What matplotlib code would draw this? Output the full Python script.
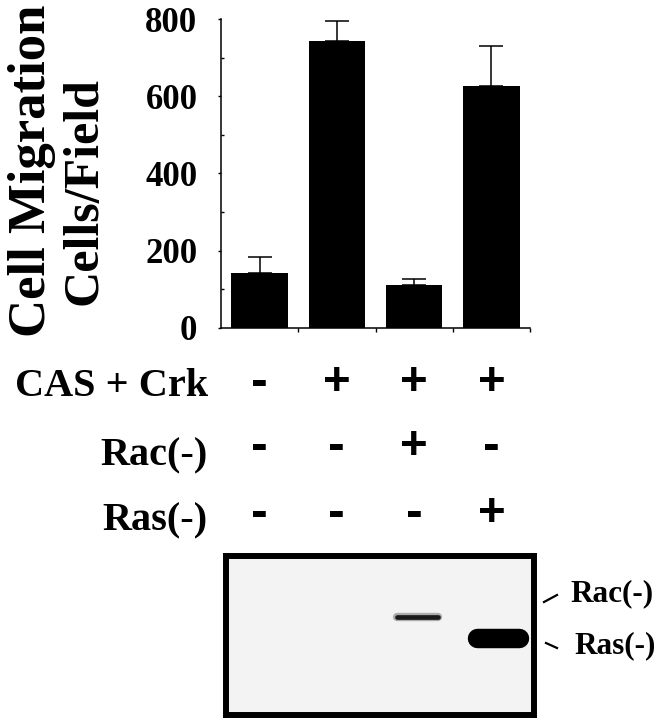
import matplotlib
matplotlib.use("Agg")
import matplotlib.pyplot as plt
from matplotlib.lines import Line2D
from matplotlib.ticker import MultipleLocator
import matplotlib.transforms as mtransforms

# data
conditions = ["1", "2", "3", "4"]
migration = [141, 744, 111, 627]
migration_err = [43, 52, 16, 102]
row_names = ["CAS + Crk", "Rac(-)", "Ras(-)"]
row_signs = [["-", "+", "+", "+"],
             ["-", "-", "+", "-"],
             ["-", "-", "-", "+"]]
band_names = ["Rac(-)", "Ras(-)"]
band_lane = [2.04, 3.08]
band_pos = [0.616, 0.484]

W, H = 660, 720
def fx(px):
    return px / W
def fy(py):
    return 1 - py / H

serif = "Liberation Serif"
sans = "Liberation Sans"

fig = plt.figure(figsize=(6.6, 7.2), dpi=100)

# bar chart
ax = fig.add_axes([fx(221), fy(327.7), 309 / W, 308.7 / H])
x = range(len(conditions))
ax.bar(x, migration, width=0.73, color="black", zorder=2)
ax.errorbar(x, migration, yerr=[[0] * 4, migration_err], fmt="none",
            ecolor="black", elinewidth=1.1, capsize=8.5, capthick=1.1, zorder=1)
ax.set_xlim(-0.5, 3.5)
ax.set_ylim(0, 800)
for s in ["top", "right"]:
    ax.spines[s].set_visible(False)
ax.spines["left"].set_linewidth(1.1)
ax.spines["bottom"].set_linewidth(1.1)
ax.set_xticks([0.5, 1.5, 2.5, 3.5])
ax.set_xticklabels([])
ax.tick_params(axis="x", direction="out", length=3, width=1)
ax.yaxis.set_major_locator(MultipleLocator(200))
ax.yaxis.set_minor_locator(MultipleLocator(100))
ax.tick_params(axis="y", which="major", direction="out", length=2, width=1, pad=15)
ax.tick_params(axis="y", which="minor", direction="in", length=2, width=1)
for lab in ax.get_yticklabels():
    lab.set_fontfamily(serif)
    lab.set_fontweight("bold")
    lab.set_fontsize(25)

fig.text(fx(45), fy(171), "Cell Migration", rotation=90, rotation_mode="anchor",
         ha="center", va="baseline", fontsize=38, fontweight="bold", family=serif)
fig.text(fx(96), fy(191), "Cells/Field", rotation=90, rotation_mode="anchor",
         ha="center", va="baseline", fontsize=36, fontweight="bold", family=serif)

# treatment table
row_base = [396, 465, 530]
row_mid = [383, 447, 514]
trans = mtransforms.blended_transform_factory(ax.transData, fig.transFigure)
for i, name in enumerate(row_names):
    fig.text(fx(208), fy(row_base[i]), name, ha="right", va="baseline",
             fontsize=29, fontweight="bold", family=serif)
    for j, sgn in enumerate(row_signs[i]):
        ax.text(j, fy(row_mid[i]), sgn, transform=trans, ha="center", va="center",
                fontsize=34 if sgn == "+" else 36, fontweight="bold", family=sans,
                clip_on=False)

# western blot
bx = fig.add_axes([fx(226), fy(715), 308 / W, 159 / H])
bx.set_facecolor("#f3f3f3")
bx.set_xlim(-0.44, 3.55)
bx.set_ylim(0, 1)
bx.set_xticks([])
bx.set_yticks([])
for s in bx.spines.values():
    s.set_linewidth(4.3)
# Rac band: thin, a bit fuzzy
bx.plot([band_lane[0] - 0.27, band_lane[0] + 0.27], [band_pos[0]] * 2, color="#666666",
        lw=6, solid_capstyle="round", alpha=0.5)
bx.plot([band_lane[0] - 0.27, band_lane[0] + 0.27], [band_pos[0]] * 2, color="#1a1a1a",
        lw=3.4, solid_capstyle="round")
# Ras band: thick, solid
bx.plot([band_lane[1] - 0.27, band_lane[1] + 0.27], [band_pos[1]] * 2, color="black",
        lw=14, solid_capstyle="round")

# labels to the right of the blot
fig.add_artist(Line2D([fx(544), fx(557)], [fy(602), fy(595)], color="black", lw=1.6))
fig.add_artist(Line2D([fx(546), fx(557)], [fy(643), fy(648)], color="black", lw=1.6))
fig.text(fx(570), fy(601), band_names[0], ha="left", va="baseline",
         fontsize=22.5, fontweight="bold", family=serif)
fig.text(fx(574), fy(653), band_names[1], ha="left", va="baseline",
         fontsize=22.5, fontweight="bold", family=serif)

fig.savefig("out.png", dpi=100)
